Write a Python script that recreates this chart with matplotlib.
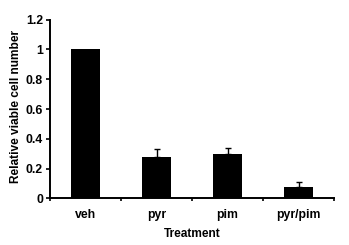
import numpy as np
import matplotlib.pyplot as plt

plt.rcParams['font.family'] = ['Liberation Sans', 'DejaVu Sans']
plt.rcParams['font.weight'] = 'bold'

treatments = ["veh", "pyr", "pim", "pyr/pim"]
viable = [1.0, 0.28, 0.295, 0.078]
err_up = [0.0, 0.05, 0.045, 0.032]

fig = plt.figure(figsize=(3.49, 2.45), dpi=100, facecolor="white")
ax = fig.add_axes([0.1433, 0.1906, 0.814, 0.729])

x = np.arange(len(treatments))
ax.bar(x, viable, width=0.41, color="black", zorder=2)
ax.errorbar(x[1:], viable[1:], yerr=[np.zeros(3), err_up[1:]], fmt="none",
            ecolor="black", elinewidth=1.0, capsize=2.5, capthick=1.0, zorder=3)

ax.set_xlim(-0.5, len(treatments) - 0.5)
ax.set_ylim(0, 1.2)
ax.set_yticks(np.arange(0, 1.21, 0.2))
ax.set_yticklabels(["0", "0.2", "0.4", "0.6", "0.8", "1", "1.2"])
ax.set_xticks(x)
ax.set_xticklabels(treatments)
ax.set_xticks(np.arange(-0.5, len(treatments), 1.0), minor=True)

ax.spines[["top", "right"]].set_visible(False)
for s in ["left", "bottom"]:
    ax.spines[s].set_linewidth(1.4)
ax.tick_params(axis="y", direction="out", length=3, width=1.2, labelsize=8.8, pad=2)
ax.tick_params(axis="x", which="major", length=0, labelsize=8.8, pad=8)
ax.tick_params(axis="x", which="minor", direction="out", length=2.5, width=1.2)

ax.set_xlabel("Treatment", fontsize=8.6, fontweight="bold", labelpad=5)
ax.set_ylabel("Relative viable cell number", fontsize=8.6, fontweight="bold")
ax.yaxis.set_label_coords(-0.098, 0.515)

fig.savefig("out.png", dpi=100)
